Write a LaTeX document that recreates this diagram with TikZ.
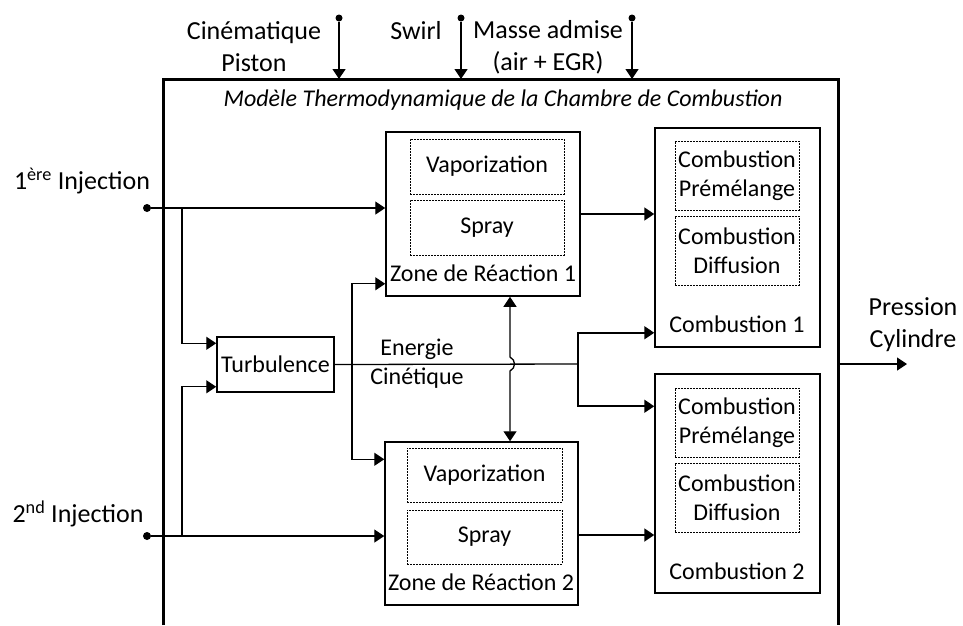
\documentclass[tikz,border=0pt]{standalone}
\usepackage{fontspec}
\setmainfont{Carlito}
\usetikzlibrary{positioning,arrows.meta,calc}

\begin{document}
\begin{tikzpicture}[x=1pt, y=-1pt, >={Triangle[length=10pt,width=13pt]},
	bloc/.style={draw, line width=1.5pt, inner sep=0pt},
	sousbloc/.style={draw, line width=1pt, dash pattern=on 2pt off 1pt, inner sep=0pt, align=center, font=\fontsize{24}{29}\selectfont},
	texte/.style={inner sep=0pt, align=center, font=\fontsize{24}{29}\selectfont},
	grand/.style={inner sep=0pt, align=center, font=\fontsize{26}{32}\selectfont},
	point/.style={circle, fill, inner sep=0pt, minimum size=8pt},
	lien/.style={line width=1.3pt}]
		
		\useasboundingbox (0,0) rectangle (963,625);
		
		% bloc principal (ouvert en bas)
		\draw [line width=3pt] (163,625) -- (163,79) coordinate (hg) -- (838,79) coordinate (hd) -- (838,625);
		\node [texte, font=\fontsize{24}{29}\selectfont\itshape] (titre) at (503,100) {Modèle Thermodynamique de la Chambre de Combustion};
		
		% entrees du haut
		\foreach \n/\x in {pist/339, swirl/461, masse/632}
		\node [point, minimum size=7pt] (\n) at (\x,18) {};
		\foreach \n in {pist, swirl, masse}
		\draw [lien, ->] (\n) -- (\n |- hg);
		\node [grand] (lpist) at (254,47) {Cinématique\\Piston};
		\node [grand] (lswirl) at (416,31) {Swirl};
		\node [grand] (lmasse) at (548,47) {Masse admise\\(air + EGR)};
		
		% zones de reaction
		\node [bloc, minimum width=194pt, minimum height=164pt] (zone1) at (483,214) {};
		\node [sousbloc, minimum width=154pt, minimum height=55pt] (vap1) at (487,166.5) {Vaporization};
		\node [sousbloc, minimum width=154pt, minimum height=55pt] (spray1) at (487,227.5) {Spray};
		\node [texte] (lzone1) at (483,273) {Zone de Réaction 1};
		
		\node [bloc, minimum width=193pt, minimum height=163pt] (zone2) at (481.5,523.5) {};
		\node [sousbloc, minimum width=155pt, minimum height=54pt] (vap2) at (484.5,475) {Vaporization};
		\node [sousbloc, minimum width=155pt, minimum height=54pt] (spray2) at (484.5,537) {Spray};
		\node [texte] (lzone2) at (481,582) {Zone de Réaction 2};
		
		% combustion
		\node [bloc, minimum width=165pt, minimum height=219pt] (comb1) at (737.5,237.5) {};
		\node [sousbloc, minimum width=124pt, minimum height=69pt] (prem1) at (737,175.5) {Combustion\\Prémélange};
		\node [sousbloc, minimum width=124pt, minimum height=69pt] (diff1) at (737,250.5) {Combustion\\Diffusion};
		\node [texte] (lcomb1) at (737,324) {Combustion 1};
		
		\node [bloc, minimum width=165pt, minimum height=219pt] (comb2) at (737.5,483.5) {};
		\node [sousbloc, minimum width=124pt, minimum height=69pt] (prem2) at (737,422.5) {Combustion\\Prémélange};
		\node [sousbloc, minimum width=124pt, minimum height=69pt] (diff2) at (737,497.5) {Combustion\\Diffusion};
		\node [texte] (lcomb2) at (737,571) {Combustion 2};
		
		% turbulence
		\node [bloc, texte, draw, line width=1.5pt, minimum width=117pt, minimum height=55pt] (turb) at (275.5,364.5) {Turbulence};
		\node [texte] (lenergie) at (417,363.5) {Energie\\Cinétique};
		
		% injections
		\node [point] (inj1) at (147,208) {};
		\node [grand] (linj1) at (82,181) {1\textsuperscript{ère} Injection};
		\node [point] (inj2) at (147,536) {};
		\node [grand] (linj2) at (78,514) {2\textsuperscript{nd} Injection};
		
		\coordinate (b1) at (182,208);
		\coordinate (b2) at (182,536);
		\draw [lien, ->] (inj1) -- (inj1 -| zone1.west);
		\draw [lien, ->] (inj2) -- (inj2 -| zone2.west);
		\draw [lien, ->] (b1) |- ([yshift=-7pt]turb.north west);
		\draw [lien, ->] (b2) |- ([yshift=6pt]turb.south west);
		
		% energie cinetique
		\coordinate (s1) at (352,364);
		\coordinate (s2) at (578,364);
		\draw [lien] (turb.east) -- (s2);
		\draw [lien, ->] (s1) |- ([yshift=13pt]zone1.south west);
		\draw [lien, ->] (s1) |- ([yshift=-18pt]zone2.north west);
		\draw [line width=1.8pt, ->] (s2) |- ([yshift=15pt]comb1.south west);
		\draw [line width=1.8pt, ->] (s2) |- ([yshift=-33pt]comb2.north west);
		
		% zones vers combustion
		\draw [line width=1.8pt, ->] (zone1.east) -- (zone1.east -| comb1.west);
		\draw [line width=1.8pt, ->] ([yshift=-11.5pt]zone2.east) -- ([yshift=-11.5pt]zone2.east -| comb2.west);
		
		% echange entre zones
		\coordinate (v1) at ([xshift=27pt]zone1.south);
		\draw [lien, <->] (v1) -- ([yshift=7pt]v1 |- s1) .. controls +(6,3) and +(6,-3) .. ([yshift=-7pt]v1 |- s1) -- (v1 |- zone2.north);
		
		% sortie
		\coordinate (sortie) at (838,364);
		\coordinate (pcyl) at (907,364);
		\draw [lien, ->] (sortie) -- (pcyl);
		\node [grand] (lpcyl) at (913,325) {Pression\\Cylindre};

		\end{tikzpicture}
\end{document}
